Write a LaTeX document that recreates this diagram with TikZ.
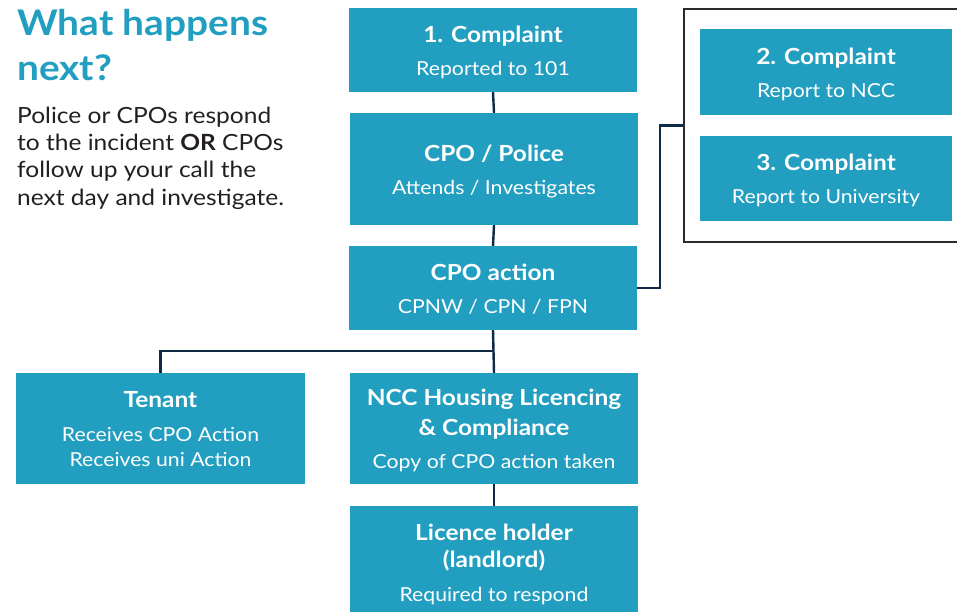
\documentclass[tikz,border=0pt]{standalone}
\usepackage{fontspec}
\setmainfont{Lato}[FakeStretch=1.1]
\definecolor{boxblue}{HTML}{229FC0}
\definecolor{linenavy}{HTML}{0E2A45}
\definecolor{bodytext}{HTML}{231F20}
\definecolor{framegray}{HTML}{2B2B2B}
\tikzset{
  fbox/.style={fill=boxblue, inner sep=0pt, minimum width=288pt},
  conn/.style={draw=linenavy, line width=2.4pt},
  ttl/.style={anchor=base, inner sep=0pt, text=white, font=\fontsize{22.2}{26}\selectfont\bfseries},
  sub/.style={anchor=base, inner sep=0pt, text=white, font=\fontsize{19.3}{23}\selectfont},
  headline/.style={anchor=base west, inner sep=0pt, text=boxblue, font=\fontsize{35.3}{40}\selectfont\bfseries},
  bodyline/.style={anchor=base west, inner sep=0pt, text=bodytext, font=\fontsize{22.3}{26}\selectfont},
}
\begin{document}
\begin{tikzpicture}[x=1pt,y=-1pt]
\useasboundingbox (0,0) rectangle (957,612);
\clip (0,0) rectangle (957,612);
% heading
\node[headline] (h1) at (17,36) {What happens};
\node[headline] (h2) at (17,81) {next?};
\node[bodyline] (b1) at (17,123.3) {Police or CPOs respond};
\node[bodyline] (b2) at (17,150.7) {to the incident \textbf{OR} CPOs};
\node[bodyline] (b3) at (17,177.9) {follow up your call the};
\node[bodyline] (b4) at (17,205.5) {next day and investigate.};
% main column boxes
\node[fbox, minimum height=84pt] (c1) at (493,50) {};
\node[fbox, minimum height=112pt] (cpo) at (494,169) {};
\node[fbox, minimum height=84pt] (act) at (493,288) {};
\node[fbox, minimum width=289pt, minimum height=111pt] (ten) at (160.5,428.5) {};
\node[fbox, minimum height=111pt] (ncc) at (494,428.5) {};
\node[fbox, minimum height=118pt] (lic) at (494,565) {};
% right group
\node[draw=framegray, line width=2pt, minimum width=280pt, minimum height=233pt, inner sep=0pt, anchor=north west] (grp) at (683,8) {};
\node[fbox, minimum width=252pt, minimum height=86pt] (c2) at (826,72) {};
\node[fbox, minimum width=252pt, minimum height=85pt] (c3) at (826,178.5) {};
% box texts
\node[ttl] (c1t) at (493,42.7) {1. Complaint};
\node[sub] (c1s) at (493,76) {Reported to 101};
\node[ttl] (cpot) at (494,161.7) {CPO / Police};
\node[sub] (cpos) at (494,194.3) {Attends / Investigates};
\node[ttl] (actt) at (493,280) {CPO action};
\node[sub] (acts) at (493,313.3) {CPNW / CPN / FPN};
\node[ttl] (c2t) at (826,64.3) {2. Complaint};
\node[sub] (c2s) at (826,97.7) {Report to NCC};
\node[ttl] (c3t) at (826,171) {3. Complaint};
\node[sub] (c3s) at (826,203.5) {Report to University};
\node[ttl] (tent) at (160.5,407.3) {Tenant};
\node[sub] (tens1) at (160.5,441.5) {Receives CPO Action};
\node[sub] (tens2) at (160.5,466.7) {Receives uni Action};
\node[ttl] (ncct1) at (494,405) {NCC Housing Licencing};
\node[ttl] (ncct2) at (494,435) {\& Compliance};
\node[sub] (nccs) at (494,468.3) {Copy of CPO action taken};
\node[ttl] (lict1) at (494,540.7) {Licence holder};
\node[ttl] (lict2) at (494,567) {(landlord)};
\node[sub] (lics) at (494,601.7) {Required to respond};
% connectors
\coordinate (j) at (493,351);
\draw[conn] (c1.south) -- (cpo.north);
\draw[conn] (cpo.south) -- (act.north);
\draw[conn] (act.south) -- (ncc.north);
\draw[conn] (ten.north) |- (j);
\draw[conn] (ncc.south) -- (lic.north);
\draw[conn] (act.east) -- ++(23,0) |- (grp.west);
\end{tikzpicture}
\end{document}
